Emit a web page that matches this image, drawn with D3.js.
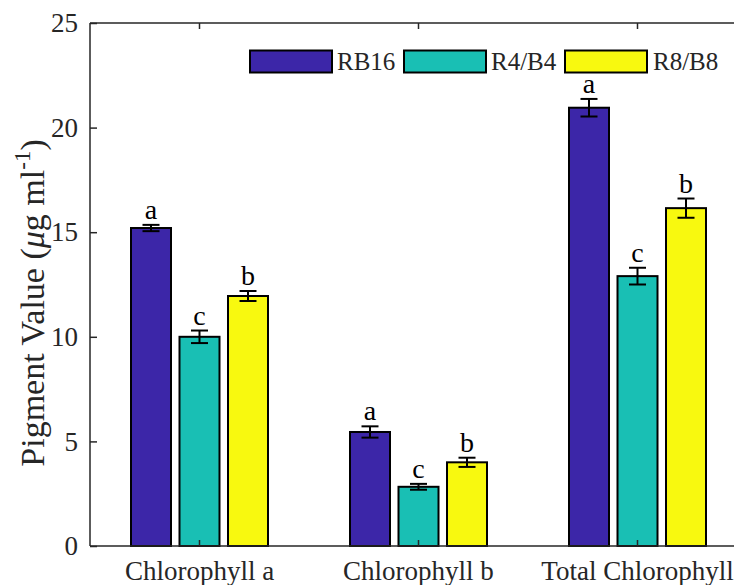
<!DOCTYPE html>
<html>
<head>
<meta charset="utf-8">
<script src="https://cdn.jsdelivr.net/npm/d3@7/dist/d3.min.js"></script>
<style>
  html, body { margin: 0; padding: 0; background: #fff; }
  svg { display: block; }
  svg text { font-family: "Liberation Serif", Tinos, "DejaVu Serif", serif !important; }
</style>
</head>
<body>
<svg id="chart" width="734" height="585"></svg>
<script>
// Pigment content per light treatment
const categories = ["Chlorophyll a", "Chlorophyll b", "Total Chlorophyll"];
const series = ["RB16", "R4/B4", "R8/B8"];
const colors = ["#3C26A8", "#19BFB4", "#F8F90F"];
const values = [
  [15.2, 5.45, 20.95],   // RB16
  [10.0, 2.83, 12.9],    // R4/B4
  [11.95, 4.0, 16.15]    // R8/B8
];
const errors = [
  [0.15, 0.27, 0.42],
  [0.3, 0.14, 0.4],
  [0.24, 0.22, 0.46]
];
const letters = [
  ["a", "a", "a"],
  ["c", "c", "c"],
  ["b", "b", "b"]
];
const yTicks = [0, 5, 10, 15, 20, 25];

const svg = d3.select("#chart");
const plotLeft = 90, plotTop = 23, plotBottom = 546, plotRight = 747;
const ink = "#262626";

const x = d3.scaleLinear().domain([0.5, categories.length + 0.5]).range([plotLeft, plotRight]);
const y = d3.scaleLinear().domain([0, 25]).range([plotBottom, plotTop]);
const offset = d3.scalePoint().domain(series).range([-48.5, 48.5]);
const barW = 40;

// bars
series.forEach((s, si) => {
  const g = svg.append("g");
  categories.forEach((c, ci) => {
    const v = values[si][ci];
    const cx = x(ci + 1) + offset(s);
    g.append("rect")
      .attr("x", cx - barW / 2)
      .attr("y", y(v))
      .attr("width", barW)
      .attr("height", y(0) - y(v))
      .attr("fill", colors[si])
      .attr("stroke", "#000")
      .attr("stroke-width", 2);
  });
});

// x ticks at category centres, inside on bottom and top
categories.forEach((c, ci) => {
  svg.append("line").attr("x1", x(ci + 1)).attr("x2", x(ci + 1))
    .attr("y1", plotBottom).attr("y2", plotBottom - 6)
    .attr("stroke", ink).attr("stroke-width", 1.5);
  svg.append("line").attr("x1", x(ci + 1)).attr("x2", x(ci + 1))
    .attr("y1", plotTop).attr("y2", plotTop + 6)
    .attr("stroke", ink).attr("stroke-width", 1.5);
});

// error bars and significance letters
series.forEach((s, si) => {
  categories.forEach((c, ci) => {
    const v = values[si][ci], e = errors[si][ci];
    const cx = x(ci + 1) + offset(s);
    const g = svg.append("g").attr("stroke", "#000").attr("stroke-width", 2);
    g.append("line").attr("x1", cx).attr("x2", cx).attr("y1", y(v - e)).attr("y2", y(v + e));
    g.append("line").attr("x1", cx - 8.5).attr("x2", cx + 8.5).attr("y1", y(v - e)).attr("y2", y(v - e));
    g.append("line").attr("x1", cx - 8.5).attr("x2", cx + 8.5).attr("y1", y(v + e)).attr("y2", y(v + e));
    svg.append("text")
      .attr("x", cx)
      .attr("y", y(v + e) - 6)
      .attr("text-anchor", "middle")
      .attr("font-size", 28)
      .attr("fill", "#000")
      .text(letters[si][ci]);
  });
});

// axes lines
svg.append("line").attr("x1", plotLeft).attr("x2", plotLeft).attr("y1", plotTop).attr("y2", plotBottom)
  .attr("stroke", ink).attr("stroke-width", 1.5);
svg.append("line").attr("x1", plotLeft).attr("x2", plotRight).attr("y1", plotBottom).attr("y2", plotBottom)
  .attr("stroke", ink).attr("stroke-width", 1.5);
svg.append("line").attr("x1", plotLeft).attr("x2", plotRight).attr("y1", plotTop).attr("y2", plotTop)
  .attr("stroke", ink).attr("stroke-width", 1.5);

// y axis ticks
const yAxis = d3.axisLeft(y).tickValues(yTicks).tickSize(-7).tickPadding(12).tickFormat(d3.format("d"));
const ya = svg.append("g").attr("transform", `translate(${plotLeft},0)`).call(yAxis);
ya.select(".domain").remove();
ya.selectAll(".tick line").attr("stroke", ink).attr("stroke-width", 1.5);
ya.selectAll(".tick text").attr("font-size", 27).attr("fill", ink);

// category labels
categories.forEach((c, ci) => {
  svg.append("text")
    .attr("x", x(ci + 1))
    .attr("y", 580)
    .attr("text-anchor", "middle")
    .attr("font-size", 27)
    .attr("fill", ink)
    .text(c);
});

// y axis title
const yt = svg.append("text")
  .attr("transform", "translate(44,303) rotate(-90)")
  .attr("text-anchor", "middle")
  .attr("font-size", 34)
  .attr("fill", ink);
yt.append("tspan").text("Pigment Value (");
yt.append("tspan").attr("font-style", "italic").text("\u03bc");
yt.append("tspan").text("g ml");
yt.append("tspan").attr("font-size", 23).attr("dy", -14).text("-1");
yt.append("tspan").attr("dy", 14).text(")");

// legend
const legendItems = [
  { x: 250, tx: 337 },
  { x: 404, tx: 491 },
  { x: 565, tx: 653 }
];
series.forEach((s, si) => {
  svg.append("rect")
    .attr("x", legendItems[si].x).attr("y", 50.5)
    .attr("width", 82).attr("height", 22)
    .attr("fill", colors[si]).attr("stroke", "#000").attr("stroke-width", 2);
  svg.append("text")
    .attr("x", legendItems[si].tx).attr("y", 70)
    .attr("font-size", 25)
    .attr("fill", ink)
    .text(s);
});
</script>
</body>
</html>
